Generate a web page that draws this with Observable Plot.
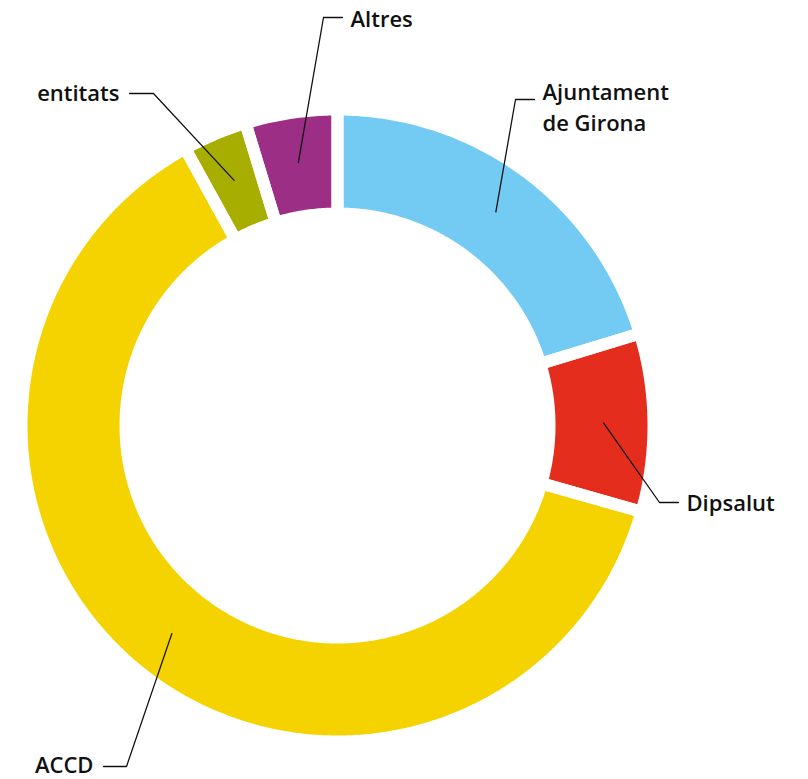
<!DOCTYPE html>
<html>
<head>
<meta charset="utf-8">
<script src="https://cdn.jsdelivr.net/npm/d3@7"></script>
<script src="https://cdn.jsdelivr.net/npm/@observablehq/plot@0.6"></script>
<style>
  html, body { margin: 0; padding: 0; background: #fff; }
  #chart svg { display: block; }
</style>
</head>
<body>
<div id="chart"></div>
<script>
// ---- data ----
const categories = ["Ajuntament de Girona", "Dipsalut", "ACCD", "entitats", "Altres"];
const shares = [20.3, 9.1, 62.6, 3.3, 4.7];
const labelTexts = ["Ajuntament\nde Girona", "Dipsalut", "ACCD", "entitats", "Altres"];
const colors = ["#73CBF4", "#E42D1C", "#F5D300", "#A8AE00", "#9C2E86"];

// ---- layout ----
const W = 808, H = 779;
const cx = 337, cy = 425, R = 310, r0 = 218, gap = 12;
// label layout: elbow point, text position (vertical centre), side
const labelLayout = {
  "Ajuntament de Girona": {ex: 515, ey: 99, tx: 542, ty: 105, side: "start"},
  "Dipsalut": {ex: 659, ey: 502, tx: 686, ty: 501, side: "start"},
  "ACCD": {ex: 126, ey: 766, tx: 93, ty: 763, side: "end"},
  "entitats": {ex: 153, ey: 93, tx: 119, ty: 91, side: "end"},
  "Altres": {ex: 323, ey: 17, tx: 350, ty: 17, side: "start"}
};

const total = d3.sum(shares);
const pt = (a, rad) => [cx + rad * Math.sin(a), cy - rad * Math.cos(a)];

let acc = 0;
const slices = categories.map((name, i) => {
  const a0 = acc / total * 2 * Math.PI;
  acc += shares[i];
  const a1 = acc / total * 2 * Math.PI;
  return {name, a0, a1, mid: (a0 + a1) / 2};
});

// polygon vertices for each ring segment (computed from the shares)
const ringPts = [];
for (const s of slices) {
  const n = Math.max(4, Math.ceil((s.a1 - s.a0) / (Math.PI / 360)));
  for (let k = 0; k <= n; k++) {
    const a = s.a0 + (s.a1 - s.a0) * k / n;
    const [x, y] = pt(a, R + gap / 2);
    ringPts.push({name: s.name, x, y});
  }
  for (let k = n; k >= 0; k--) {
    const a = s.a0 + (s.a1 - s.a0) * k / n;
    const [x, y] = pt(a, r0 - gap / 2);
    ringPts.push({name: s.name, x, y});
  }
  ringPts.push({...ringPts[ringPts.length - 2 * (n + 1)]});
}

// leader lines
const leaderPts = [];
const labelRows = [];
slices.forEach((s, i) => {
  const L = labelLayout[s.name];
  const [ax, ay] = pt(s.mid, 266);
  const hx = L.side === "start" ? L.tx - 8 : L.tx + 10;
  leaderPts.push({name: s.name, x: ax, y: ay});
  leaderPts.push({name: s.name, x: L.ex, y: L.ey});
  leaderPts.push({name: s.name, x: hx, y: L.ey});
  labelRows.push({name: s.name, label: labelTexts[i], x: L.tx, y: L.ty, side: L.side});
});

const textOpts = {
  x: "x", y: "y", text: "label",
  fontSize: 22, fontWeight: 600, fill: "#111",
  lineAnchor: "middle", lineHeight: 1.41
};

const chart = Plot.plot({
  width: W, height: H,
  margin: 0,
  style: {fontFamily: "'Open Sans', sans-serif", background: "white"},
  x: {domain: [0, W], range: [0, W], axis: null},
  y: {domain: [0, H], range: [0, H], axis: null},
  color: {domain: categories, range: colors},
  marks: [
    Plot.line(ringPts, {x: "x", y: "y", z: "name", fill: "name", stroke: null}),
    Plot.line(ringPts, {x: "x", y: "y", z: "name", fill: null, stroke: "white", strokeWidth: gap, strokeLinejoin: "round"}),
    Plot.line(leaderPts, {x: "x", y: "y", z: "name", stroke: "#111", strokeWidth: 1.3}),
    Plot.text(labelRows.filter(d => d.side === "start"), {...textOpts, textAnchor: "start"}),
    Plot.text(labelRows.filter(d => d.side === "end"), {...textOpts, textAnchor: "end"})
  ]
});
document.getElementById("chart").appendChild(chart);
</script>
</body>
</html>
